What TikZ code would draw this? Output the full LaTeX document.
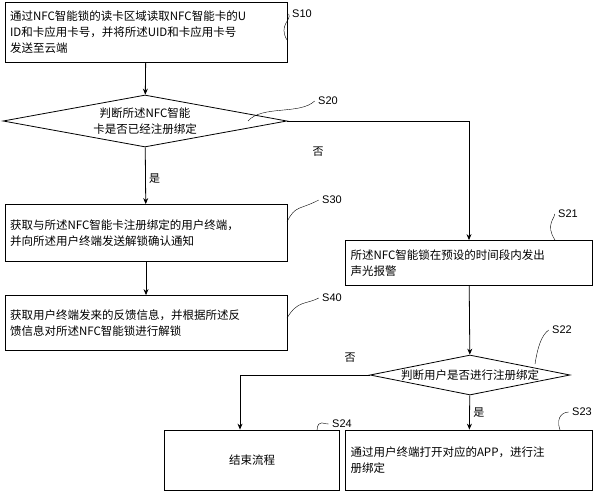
\documentclass[tikz,border=0pt]{standalone}
\usepackage{fontspec}
\setmainfont{Liberation Sans}
\newfontfamily\cjk{Noto Sans CJK SC}
\usetikzlibrary{shapes.geometric,arrows.meta}
\begin{document}
\begin{tikzpicture}[x=1pt,y=-1pt,
  box/.style={draw,thick,rectangle,inner sep=0pt,align=left,font=\cjk\fontsize{11.5}{16}\selectfont},
  dia/.style={draw,thick,diamond,aspect=5.6,inner sep=0pt,align=center,font=\cjk\fontsize{11.5}{16}\selectfont},
  lbl/.style={font=\fontsize{11}{13}\selectfont},
  arr/.style={-{Stealth[length=6pt,width=5pt]},thick},
  lead/.style={thin}]
\useasboundingbox (0,0) rectangle (601,500);
\node[box,minimum width=282,minimum height=60,text width=272] (s10) at (146,32) {通过NFC智能锁的读卡区域读取NFC智能卡的U\\ID和卡应用卡号，并将所述UID和卡应用卡号\\发送至云端};
\node[dia,minimum width=284,minimum height=52] (s20) at (145,121) {判断所述NFC智能\\卡是否已经注册绑定};
\node[box,minimum width=282,minimum height=57,text width=272] (s30) at (146,233) {获取与所述NFC智能卡注册绑定的用户终端，\\并向所述用户终端发送解锁确认通知};
\node[box,minimum width=282,minimum height=55,text width=272] (s40) at (146,323) {获取用户终端发来的反馈信息，并根据所述反\\馈信息对所述NFC智能锁进行解锁};
\node[box,minimum width=247,minimum height=45,text width=237] (s21) at (469,263) {所述NFC智能锁在预设的时间段内发出\\声光报警};
\node[dia,minimum width=200,minimum height=40] (s22) at (470,375) {判断用户是否进行注册绑定};
\node[box,minimum width=175,minimum height=60,align=center] (s24) at (252,460) {结束流程};
\node[box,minimum width=247,minimum height=60,text width=237] (s23) at (469,460) {通过用户终端打开对应的APP，进行注\\册绑定};
\draw[arr] (s10) -- (s20);
\draw[arr] (s20) -- node[right,font=\cjk\fontsize{11}{13}\selectfont,pos=0.55]{是} (s30);
\draw[arr] (s30) -- (s40);
\coordinate (c1) at (469,121);
\draw[arr] (s20.east) -- (c1) -- (s21);
\node[font=\cjk\fontsize{11}{13}\selectfont] (n1) at (318,152) {否};
\draw[arr] (s21) -- (s22);
\draw[arr] (s22) -- node[right,font=\cjk\fontsize{11}{13}\selectfont]{是} (s23);
\coordinate (c2) at (240,375);
\draw[arr] (s22.west) -- (c2) -- (c2 |- s24.north);
\node[font=\cjk\fontsize{11}{13}\selectfont] (n2) at (350,358) {否};
\node[lbl] (l10) at (302,14) {S10};
\node[lbl] (l20) at (328,101) {S20};
\node[lbl] (l30) at (332,200) {S30};
\node[lbl] (l40) at (332,298) {S40};
\node[lbl] (l21) at (568,214) {S21};
\node[lbl] (l22) at (562,330) {S22};
\node[lbl] (l24) at (342,424) {S24};
\node[lbl] (l23) at (582,412) {S23};
\draw[lead] (287,40) .. controls (278,25) and (292,20) .. (l10.west);
\draw[lead] (248,121) .. controls (262,105) and (300,115) .. (l20.west);
\draw[lead] (287,222) .. controls (295,205) and (300,210) .. (l30.west);
\draw[lead] (287,318) .. controls (298,300) and (305,305) .. (l40.west);
\draw[lead] (555,240) .. controls (545,225) and (555,218) .. (l21.west);
\draw[lead] (535,364) .. controls (538,345) and (542,335) .. (l22.west);
\draw[lead] (317,430) .. controls (318,418) and (325,425) .. (l24.west);
\draw[lead] (560,430) .. controls (555,415) and (565,412) .. (l23.west);
\end{tikzpicture}
\end{document}
